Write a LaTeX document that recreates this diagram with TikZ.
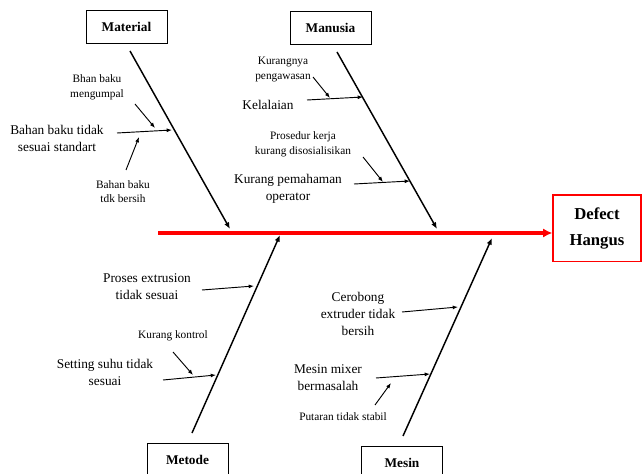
\documentclass[tikz,border=0pt]{standalone}
\usepackage{fontspec}
\setmainfont{Liberation Serif}
\usetikzlibrary{arrows.meta}

\tikzset{
  bone/.style={line width=1.1pt,-{Latex[length=5pt,width=4pt]}},
  sub/.style={line width=0.7pt,-{Latex[length=4pt,width=3pt]}},
  cat/.style={draw,line width=0.7pt,minimum width=60.75pt,minimum height=24.75pt,inner sep=0pt,font=\fontsize{10}{12}\selectfont\bfseries},
  cause/.style={align=center,inner sep=0pt,font=\fontsize{10}{12.75}\selectfont},
  small/.style={align=center,inner sep=0pt,font=\fontsize{8.5}{11}\selectfont},
  effect/.style={draw=red,line width=1pt,minimum width=66pt,minimum height=50pt,inner sep=0pt,align=center,font=\fontsize{12.5}{19}\selectfont\bfseries},
}

\begin{document}
\begin{tikzpicture}[x=0.75pt,y=-0.75pt]
		\useasboundingbox (0,0) rectangle (643,474);
		
		% Kotak kategori
		\node[cat] (material) at (126.5,26.5) {Material};
		\node[cat] (manusia) at (330.5,28) {Manusia};
		\node[cat] (metode) at (187.5,460) {Metode};
		\node[cat] (mesin) at (402,462.5) {Mesin};
		\node[effect] (defect) at (597,228.5) {Defect\\Hangus};
		
		% Tulang utama
		\coordinate (spine) at (158,233);
		\draw[red,line width=3.6pt,-{Latex[length=7pt,width=7pt]}] (spine) -- (spine -| defect.west);
		
		% Tulang kategori
		\coordinate (matTop) at (130,51);   \coordinate (matEnd) at (230,229);
		\coordinate (manTop) at (337,52);   \coordinate (manEnd) at (437,229);
		\coordinate (metBot) at (192,433);  \coordinate (metEnd) at (280,235);
		\coordinate (mesBot) at (403,436);  \coordinate (mesEnd) at (492,238);
		\draw[bone] (matTop) -- (matEnd);
		\draw[bone] (manTop) -- (manEnd);
		\draw[bone] (metBot) -- (metEnd);
		\draw[bone] (mesBot) -- (mesEnd);
		
		% Material
		\node[cause] (bbtidak) at (57,138.5) {Bahan baku tidak\\sesuai standart};
		\node[small] (bhan) at (97,87.5) {Bhan baku\\mengumpal};
		\node[small] (bbkotor) at (123,191.5) {Bahan baku\\tdk bersih};
		\coordinate (mat1s) at (117,133); \coordinate (mat1e) at (172,130);
		\coordinate (mat2s) at (135,104); \coordinate (mat2e) at (155,128);
		\coordinate (mat3s) at (126,170); \coordinate (mat3e) at (139,137);
		\draw[sub] (mat1s) -- (mat1e);
		\draw[sub] (mat2s) -- (mat2e);
		\draw[sub] (mat3s) -- (mat3e);
		
		% Manusia
		\node[small] (awas) at (283,69.5) {Kurangnya\\pengawasan};
		\node[cause] (lalai) at (268,105) {Kelalaian};
		\node[small] (prosedur) at (303,144.5) {Prosedur kerja\\kurang disosialisikan};
		\node[cause] (paham) at (288,188.5) {Kurang pemahaman\\operator};
		\coordinate (man1s) at (307,100); \coordinate (man1e) at (363,97);
		\coordinate (man2s) at (313,77);  \coordinate (man2e) at (330,98);
		\coordinate (man3s) at (354,184); \coordinate (man3e) at (410,181);
		\coordinate (man4s) at (363,157); \coordinate (man4e) at (383,182);
		\draw[sub] (man1s) -- (man1e);
		\draw[sub] (man2s) -- (man2e);
		\draw[sub] (man3s) -- (man3e);
		\draw[sub] (man4s) -- (man4e);
		
		% Metode
		\node[cause] (extrusi) at (147,286.5) {Proses extrusion\\tidak sesuai};
		\node[small] (kontrol) at (173,336) {Kurang kontrol};
		\node[cause] (suhu) at (105,372.5) {Setting suhu tidak\\sesuai};
		\coordinate (met1s) at (202,290); \coordinate (met1e) at (254,286);
		\coordinate (met2s) at (163,380); \coordinate (met2e) at (216,375);
		\coordinate (met3s) at (173,352); \coordinate (met3e) at (193,375);
		\draw[sub] (met1s) -- (met1e);
		\draw[sub] (met2s) -- (met2e);
		\draw[sub] (met3s) -- (met3e);
		
		% Mesin
		\node[cause] (cerobong) at (358,313.5) {Cerobong\\extruder tidak\\bersih};
		\node[cause] (mixer) at (328,378) {Mesin mixer\\bermasalah};
		\node[small] (putaran) at (343,417) {Putaran tidak stabil};
		\coordinate (mes1s) at (402,312); \coordinate (mes1e) at (458,307);
		\coordinate (mes2s) at (376,378); \coordinate (mes2e) at (430,374);
		\coordinate (mes3s) at (375,405); \coordinate (mes3e) at (391,383);
		\draw[sub] (mes1s) -- (mes1e);
		\draw[sub] (mes2s) -- (mes2e);
		\draw[sub] (mes3s) -- (mes3e);
		
	\end{tikzpicture}
\end{document}
